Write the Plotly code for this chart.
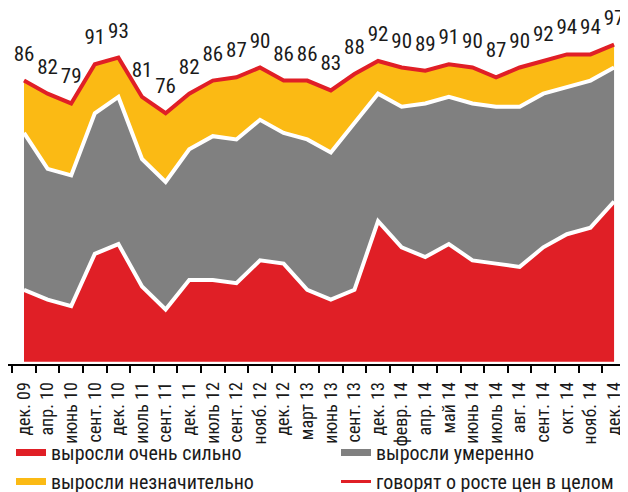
import plotly.graph_objects as go

labels = ["дек. 09", "апр. 10", "июнь 10", "сент. 10", "дек. 10", "июль 11", "сент. 11",
          "дек. 11", "июль 12", "сент. 12", "нояб. 12", "дек. 12", "март 13", "июнь 13",
          "сент. 13", "дек. 13", "февр. 14", "апр. 14", "май 14", "июнь 14", "июль 14",
          "авг. 14", "сент. 14", "окт. 14", "нояб. 14", "дек. 14"]
very_strong = [22, 19, 17, 33, 36, 23, 16, 25, 25, 24, 31, 30, 22, 19, 22, 43, 35, 32, 36, 31, 30, 29, 35, 39, 41, 49]
moderate = [48, 40, 40, 43, 45, 39, 39, 40, 44, 44, 43, 40, 46, 45, 51, 39, 43, 47, 45, 48, 48, 49, 47, 45, 45, 41]
slight = [16, 23, 22, 15, 12, 19, 21, 17, 17, 19, 16, 16, 18, 19, 15, 10, 12, 10, 10, 11, 9, 12, 10, 10, 8, 7]
total = [86, 82, 79, 91, 93, 81, 76, 82, 86, 87, 90, 86, 86, 83, 88, 92, 90, 89, 91, 90, 87, 90, 92, 94, 94, 97]

names = ["выросли очень сильно", "выросли умеренно", "выросли незначительно", "говорят о росте цен в целом"]
RED = "#e01f26"
GRAY = "#808080"
YELLOW = "#fbba14"
FONT = "Roboto Condensed, Liberation Sans Narrow, sans-serif"

W, H = 620, 484
x = list(range(len(labels)))
fig = go.Figure()

fig.add_trace(go.Scatter(x=x, y=very_strong, stackgroup="s", mode="lines",
                         line=dict(color="white", width=4), fillcolor=RED, showlegend=False, hoverinfo="skip"))
fig.add_trace(go.Scatter(x=x, y=moderate, stackgroup="s", mode="lines",
                         line=dict(color="white", width=4), fillcolor=GRAY, showlegend=False, hoverinfo="skip"))
fig.add_trace(go.Scatter(x=x, y=slight, stackgroup="s", mode="lines",
                         line=dict(color=YELLOW, width=0), fillcolor=YELLOW, showlegend=False, hoverinfo="skip"))
fig.add_trace(go.Scatter(x=x, y=total, mode="lines", line=dict(color=RED, width=4),
                         showlegend=False, hoverinfo="skip"))
fig.add_trace(go.Scatter(x=x, y=total, mode="markers+text", text=[str(v) for v in total],
                         textposition="top center", marker=dict(size=22, color="rgba(0,0,0,0)"),
                         textfont=dict(family=FONT, size=21, color="#1a1a1a"),
                         showlegend=False, hoverinfo="skip", cliponaxis=False))

# legend entries: column 1 -> legend, column 2 -> legend2
entries = [(names[0], RED, 7, "legend"), (names[2], YELLOW, 7, "legend"),
           (names[1], GRAY, 7, "legend2"), (names[3], RED, 3, "legend2")]
for nm, col, w, lg in entries:
    fig.add_trace(go.Scatter(x=[None], y=[None], mode="lines", name=nm, legend=lg,
                             line=dict(color=col, width=w)))

leg_common = dict(orientation="v", xref="container", yref="container", xanchor="left", yanchor="top",
                  font=dict(family=FONT, size=20, color="#1a1a1a"), itemwidth=30,
                  bgcolor="rgba(0,0,0,0)", borderwidth=0, tracegroupgap=0, traceorder="normal")

fig.update_layout(
    width=W, height=H,
    margin=dict(l=0, r=0, t=0, b=128, autoexpand=False),
    paper_bgcolor="white", plot_bgcolor="white",
    font=dict(family=FONT, color="#1a1a1a"),
    xaxis=dict(range=[-0.678, 25.59], tickmode="array", tickvals=x, ticktext=labels,
               tickangle=-90, ticks="", showgrid=False, zeroline=False, automargin=False,
               showline=True, linecolor="black", linewidth=2,
               tickfont=dict(family=FONT, size=18, color="#1a1a1a"),
               ticklabelstandoff=9,
               minor=dict(ticks="outside", tickmode="array", tickvals=[i - 0.5 for i in range(len(labels))],
                          ticklen=7, tickwidth=1.5, tickcolor="black", showgrid=False)),
    yaxis=dict(range=[-0.7, 108.2], visible=False, showgrid=False, zeroline=False, automargin=False),
    legend=dict(x=3 / W, y=1 - 425 / H, **leg_common),
    legend2=dict(x=328 / W, y=1 - 425 / H, **leg_common),
    showlegend=True,
)

fig.write_html("out.html")
